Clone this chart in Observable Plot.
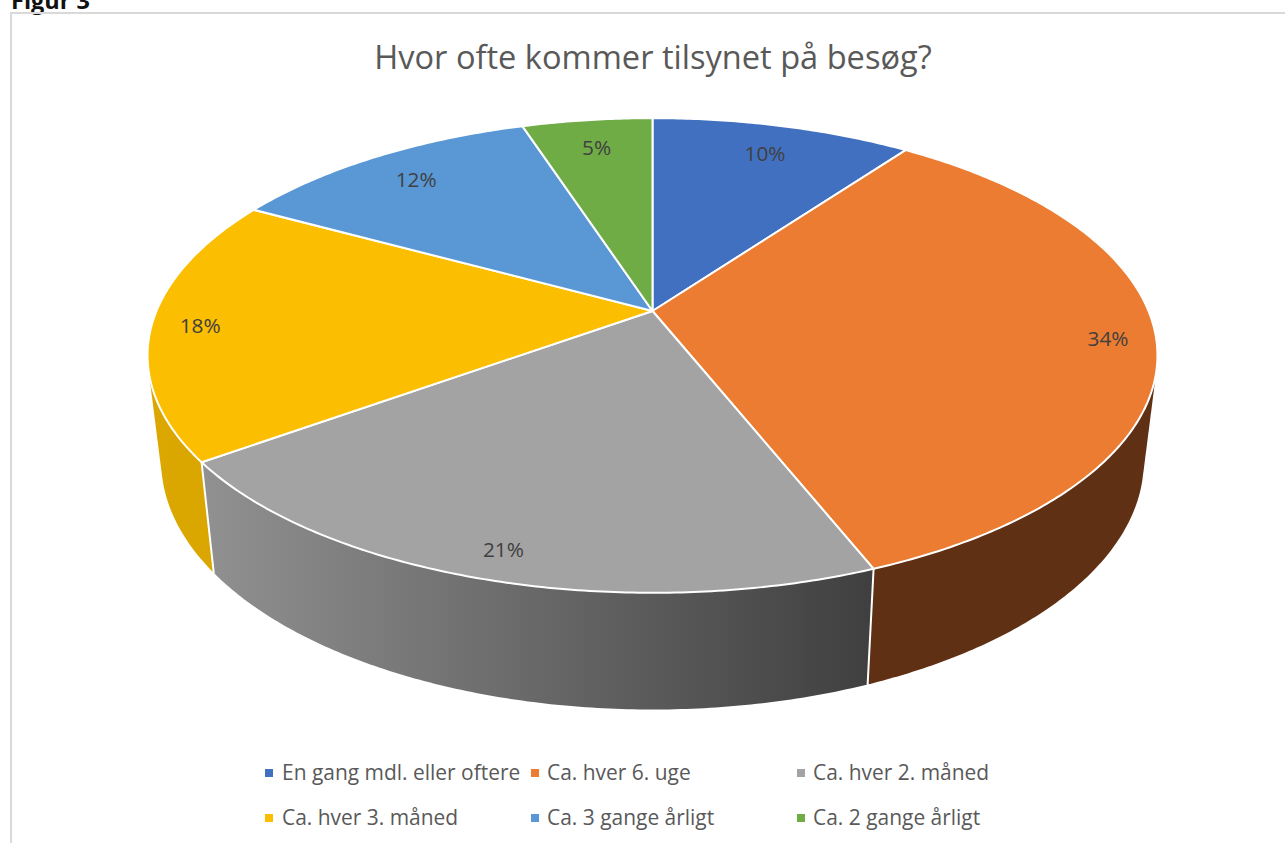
<!DOCTYPE html>
<html lang="da">
<head>
<meta charset="utf-8">
<title>Hvor ofte kommer tilsynet på besøg?</title>
<script src="https://cdn.jsdelivr.net/npm/d3@7"></script>
<script src="https://cdn.jsdelivr.net/npm/@observablehq/plot@0.6"></script>
<style>
html,body{margin:0;padding:0;background:#fff;width:1285px;height:843px;overflow:hidden;font-family:"Open Sans",sans-serif}
#fig{position:absolute;left:11px;top:-16px;font:700 23.5px "Open Sans",sans-serif;color:#111}
#frame{position:absolute;left:10px;top:12px;width:1400px;height:1000px;border:2px solid #d9d9d9;box-sizing:border-box}
#title{position:absolute;left:374px;top:33px;width:558px;text-align:center;white-space:nowrap;font-size:32.6px;line-height:48px;color:#595959}
#chart{position:absolute;left:0;top:0}
.lg{position:absolute;white-space:nowrap;font-size:20.95px;line-height:28px;color:#595959}
.sw{position:absolute;width:8px;height:8px}
</style>
</head>
<body>
<div id="fig">Figur 3</div>
<div id="frame"></div>
<div id="chart"></div>
<div id="title">Hvor ofte kommer tilsynet på besøg?</div>
<div id="legend"></div>
<script>
const categories = ["En gang mdl. eller oftere","Ca. hver 6. uge","Ca. hver 2. måned","Ca. hver 3. måned","Ca. 3 gange årligt","Ca. 2 gange årligt"];
const shares = [10,34,21,18,12,5];
const colors = ["#4270c0","#eb7c31","#a3a3a3","#fbbe00","#5a98d5","#6fac46"];
const wallColors = ["#2a4476","#5f3013","url(#wallGray)","url(#wallGold)","#365d80","#43682b"];

// Perspective model of the tilted disc
const apex = [652, 310.5], radiusX = 496, radiusY = 229, tilt = 0.1873;
const depthScale = 0.973, depthStretch = 1.047, depthY = 414;
const project = (a, r = 1) => {
  const u = r * Math.sin(a), v = -r * Math.cos(a), w = 1 - tilt * v;
  return [apex[0] + radiusX * u / w, apex[1] + radiusY * v / w];
};
const lower = ([x, y]) => [apex[0] + depthScale * (x - apex[0]), depthY + depthStretch * (y - apex[1])];

const total = d3.sum(shares);
let run = 0;
const slices = shares.map((s, i) => {
  const a0 = run / total * 2 * Math.PI; run += s;
  return {i, name: categories[i], share: s, a0, a1: run / total * 2 * Math.PI};
});
const arc = (a0, a1) => {
  const n = Math.max(2, Math.ceil((a1 - a0) / 0.01));
  return d3.range(n + 1).map(k => a0 + (a1 - a0) * k / n);
};
const topRows = [], wallRows = [], edgeRows = [];
for (const s of slices) {
  [[apex[0], apex[1]], ...arc(s.a0, s.a1).map(a => project(a))].forEach(([x, y]) => topRows.push({x, y, name: s.name}));
  const t = arc(s.a0, s.a1).map(a => project(a)), b = t.map(lower);
  d3.polygonHull([...t, ...b]).forEach(([x, y]) => wallRows.push({x, y, name: s.name}));
}
// visible wall seams
[slices[1].a1, slices[2].a1].forEach((a, i) => {
  const p = project(a), q = lower(p);
  edgeRows.push({x: p[0], y: p[1], e: i}, {x: q[0], y: q[1], e: i});
});

const labels = slices.map(s => {
  const [x, y] = project((s.a0 + s.a1) / 2, s.share >= 15 ? 0.905 : 0.84);
  return {x, y, text: s.share + "%"};
});

const colorOf = new Map(categories.map((c, i) => [c, colors[i]]));
const wallOf = new Map(categories.map((c, i) => [c, wallColors[i]]));
const wallOrder = [categories[3], categories[1], categories[2]]; // back to front

const plot = Plot.plot({
  width: 1285, height: 843, margin: 0,
  x: {domain: [0, 1285], range: [0, 1285], axis: null},
  y: {domain: [0, 843], range: [0, 843], axis: null},
  style: {background: "transparent"},
  marks: [
    wallOrder.map(c =>
      Plot.line(wallRows.filter(d => d.name === c), {x: "x", y: "y", fill: wallOf.get(c), stroke: "none", curve: "linear-closed"})),
    Plot.line(edgeRows, {x: "x", y: "y", z: "e", stroke: "#fff", strokeWidth: 2}),
    categories.map(c =>
      Plot.line(topRows.filter(d => d.name === c), {x: "x", y: "y", fill: colorOf.get(c), stroke: "#fff", strokeWidth: 2, curve: "linear-closed", strokeLinejoin: "round"})),
    Plot.text(labels, {x: "x", y: "y", dy: 2, dx: 0.5, text: "text", fill: "#404040", fontSize: 20.8, fontFamily: "Open Sans"})
  ]
});
// gradients for the shaded walls
const defs = d3.select(plot).insert("defs", ":first-child");
const grad = (id, stops) => {
  const g = defs.append("linearGradient").attr("id", id).attr("x1", 0).attr("x2", 1).attr("y1", 0).attr("y2", 0);
  stops.forEach(([o, c]) => g.append("stop").attr("offset", o).attr("stop-color", c));
};
grad("wallGray", [[0, "#919191"], [1, "#3f3f3f"]]);
grad("wallGold", [[0, "#dba700"], [1, "#d9a400"]]);
document.getElementById("chart").append(plot);

// legend
const lgPos = [[265,282,773],[531,547,773],[797,813,773],[265,282,818],[531,547,818],[797,813,818]];
const lg = document.getElementById("legend");
categories.forEach((c, i) => {
  const [sx, tx, cy] = lgPos[i];
  const sw = document.createElement("div"); sw.className = "sw";
  sw.style.cssText = `left:${sx}px;top:${cy - 4}px;background:${colors[i]}`;
  const t = document.createElement("div"); t.className = "lg"; t.textContent = c;
  t.style.cssText = `left:${tx}px;top:${cy - 15}px`;
  lg.append(sw, t);
});
</script>
</body>
</html>
